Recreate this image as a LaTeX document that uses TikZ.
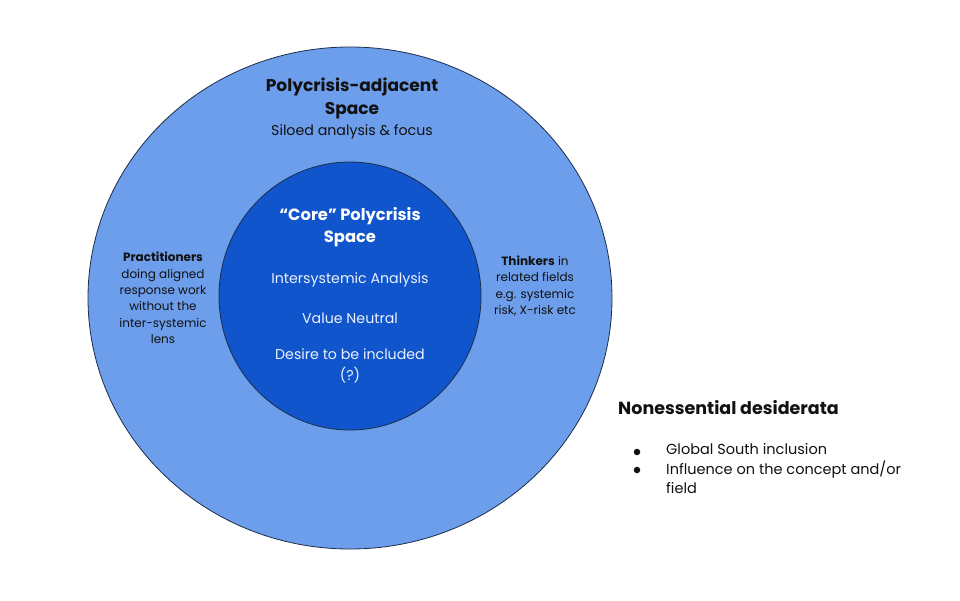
\documentclass[tikz,border=0pt]{standalone}
\usepackage{fontspec}
\setmainfont{Poppins}
\definecolor{outerblue}{HTML}{6D9EEB}
\definecolor{innerblue}{HTML}{1155CC}
\definecolor{edge}{HTML}{1C2E4A}
\definecolor{ink}{HTML}{111111}
\definecolor{light}{HTML}{EAF1FD}
\begin{document}
\begin{tikzpicture}[x=1pt,y=-1pt,
  txt/.style={inner sep=0pt,align=center,text=ink},
  intxt/.style={inner sep=0pt,align=center,text=light},
  dot/.style={circle,fill=ink,inner sep=0pt,minimum size=6.5pt}]
\useasboundingbox (0,0) rectangle (960,600);
\fill[white] (0,0) rectangle (960,600);
\draw[edge,line width=0.8pt,fill=outerblue] (350,298) ellipse [x radius=262, y radius=251];
\draw[edge,line width=0.8pt,fill=innerblue] (350,296) ellipse [x radius=131, y radius=134];
\node[txt,font=\bfseries\fontsize{17}{23}\selectfont] (outtitle) at (352,98) {Polycrisis-adjacent\\Space};
\node[txt,font=\fontsize{14.2}{18}\selectfont] (outsub) at (352,132) {Siloed analysis \& focus};
\node[txt,font=\fontsize{12}{16.4}\selectfont] (left) at (163,298) {\textbf{Practitioners}\\doing aligned\\response work\\without the\\inter-systemic\\lens};
\node[txt,font=\fontsize{12}{16.4}\selectfont] (right) at (535,286) {\textbf{Thinkers} in\\related fields\\e.g. systemic\\risk, X-risk etc};
\node[intxt,text=white,font=\bfseries\fontsize{16.3}{22}\selectfont] (intitle) at (350,227) {“Core” Polycrisis\\Space};
\node[intxt,font=\fontsize{14.2}{18}\selectfont] (ia) at (350,280) {Intersystemic Analysis};
\node[intxt,font=\fontsize{14.2}{18}\selectfont] (vn) at (350,318) {Value Neutral};
\node[intxt,font=\fontsize{14.2}{21}\selectfont] (di) at (350,366) {Desire to be included\\(?)};
\node[txt,anchor=west,font=\bfseries\fontsize{17.5}{20}\selectfont] (nd) at (618,408) {Nonessential desiderata};
\node[dot] (b1) at (637,452) {};
\node[dot] (b2) at (637,470) {};
\node[txt,anchor=north west,align=left,font=\fontsize{14.5}{19}\selectfont] (t1) at (666,443) {Global South inclusion};
\node[txt,anchor=north west,align=left,font=\fontsize{14.5}{19}\selectfont] (t2) at (666,461) {Influence on the concept and/or\\field};
\end{tikzpicture}
\end{document}
